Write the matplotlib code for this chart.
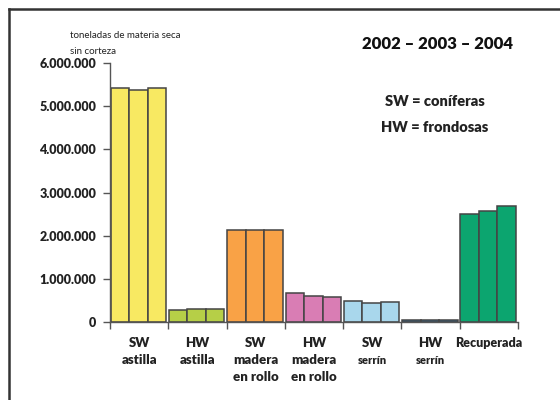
import numpy as np
import matplotlib
matplotlib.use('Agg')
import matplotlib.pyplot as plt
from matplotlib.lines import Line2D

plt.rcParams['font.family'] = ['Lato', 'DejaVu Sans']

categorias = ['SW\nastilla', 'HW\nastilla', 'SW\nmadera\nen rollo', 'HW\nmadera\nen rollo',
              'SW\nserrín', 'HW\nserrín', 'Recuperada']
v2002 = [5430000, 280000, 2140000, 680000, 490000, 40000, 2500000]
v2003 = [5370000, 300000, 2140000, 610000, 450000, 40000, 2580000]
v2004 = [5410000, 310000, 2120000, 590000, 460000, 40000, 2680000]
colores = ['#f8e962', '#b6cf47', '#f9a246', '#d97db4', '#a9d7ec', '#2e6b9c', '#0ca56f']
yticks = [0, 1000000, 2000000, 3000000, 4000000, 5000000, 6000000]
ylabels = ['0', '1.000.000', '2.000.000', '3.000.000', '4.000.000', '5.000.000', '6.000.000']

fig = plt.figure(figsize=(5.6, 4.0), dpi=100)
ax = fig.add_axes([110/560, 1-322/400, 408/560, (322-63)/400])

x = np.arange(len(categorias))
w = 0.317
off = 0.012
for j, serie in enumerate([v2002, v2003, v2004]):
    ax.bar(x + off + j*w, serie, width=w, align='edge', color=colores,
           edgecolor='#444444', linewidth=1.1, zorder=2)

ax.set_xlim(0, len(categorias))
ax.set_ylim(0, 6000000)
ax.set_yticks(yticks)
ax.set_yticklabels(ylabels, fontsize=9, fontweight='heavy', color='#222222')
ax.set_xticks(np.arange(len(categorias)+1))
ax.set_xticklabels([])
ax.tick_params(axis='both', direction='out', length=5, width=1, color='#555555')
ax.tick_params(axis='y', pad=5)
for s in ['top', 'right']:
    ax.spines[s].set_visible(False)
for s in ['left', 'bottom']:
    ax.spines[s].set_color('#555555')
    ax.spines[s].set_linewidth(1)

# etiquetas de categorías
for i, c in enumerate(categorias):
    for k, t in enumerate(c.split('\n')):
        fs = 9.5
        if t == 'serrín':
            fs = 8
        elif t == 'Recuperada':
            fs = 9
        fig.text((110 + (i + 0.5)*408/7)/560, 1 - (343 + k*17)/400, t,
                 ha='center', va='center', fontsize=fs, fontweight='heavy', color='#222222')

fig.text(70/560, 1-35/400, 'toneladas de materia seca', fontsize=7, va='center', color='#222222')
fig.text(70/560, 1-51/400, 'sin corteza', fontsize=7, va='center', color='#222222')
fig.text(437/560, 1-44/400, '2002 – 2003 – 2004', fontsize=12, fontweight='heavy',
         ha='center', va='center', color='#111111')
fig.text(435/560, 1-102/400, 'SW = coníferas', fontsize=10.5, fontweight='heavy',
         ha='center', va='center', color='#222222')
fig.text(435/560, 1-127/400, 'HW = frondosas', fontsize=10.5, fontweight='heavy',
         ha='center', va='center', color='#222222')

# marco
fig.add_artist(Line2D([9/560, 9/560], [0, 1-9/400], color='#333333', linewidth=1.8))
fig.add_artist(Line2D([9/560, 1], [1-9/400, 1-9/400], color='#333333', linewidth=1.8))

fig.savefig('out.png', dpi=100)
